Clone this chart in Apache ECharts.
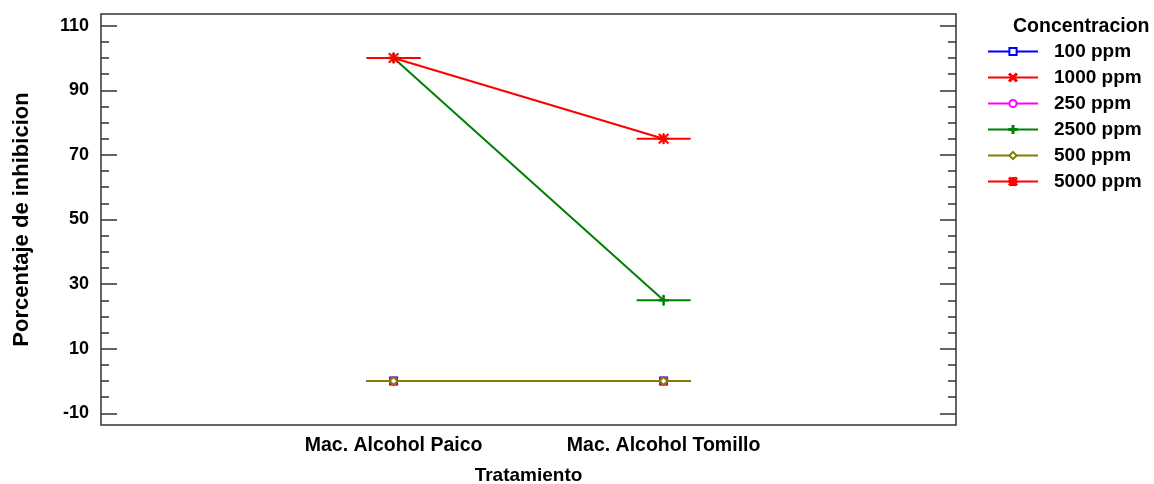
<!DOCTYPE html>
<html>
<head>
<meta charset="utf-8">
<script src="https://cdn.jsdelivr.net/npm/echarts@6/dist/echarts.min.js"></script>
<style>
html,body{margin:0;padding:0;background:#fff;}
#chart{width:1154px;height:484px;}
</style>
</head>
<body>
<div id="chart"></div>
<script>
const categories = ['Mac. Alcohol Paico', 'Mac. Alcohol Tomillo'];
const concentrations = ['100 ppm', '1000 ppm', '250 ppm', '2500 ppm', '500 ppm', '5000 ppm'];
const ppm100 = [0, 0];
const ppm1000 = [0, 0];
const ppm250 = [0, 0];
const ppm2500 = [100, 25];
const ppm500 = [0, 0];
const ppm5000 = [100, 75];
const yMajorTicks = [-10, 10, 30, 50, 70, 90, 110];
const yMinorTicks = [-5, 0, 5, 15, 20, 25, 35, 40, 45, 55, 60, 65, 75, 80, 85, 95, 100, 105];
const legendTitle = 'Concentracion';
const xTitle = 'Tratamiento';
const yTitle = 'Porcentaje de inhibicion';

const values = [ppm100, ppm1000, ppm250, ppm2500, ppm500, ppm5000];
const colors = ['#0000ff', '#ff0000', '#ff00ff', '#008000', '#808000', '#ff0000'];
const PLUS = 'path://M4.3,0H5.7V4.3H10V5.7H5.7V10H4.3V5.7H0V4.3H4.3Z';
const CROSS = 'path://M1,0L5,4L9,0L10,1L6,5L10,9L9,10L5,6L1,10L0,9L4,5L0,1Z';
const STAR = 'path://M4.3,0H5.7V4.3H10V5.7H5.7V10H4.3V5.7H0V4.3H4.3Z M1,0L5,4L9,0L10,1L6,5L10,9L9,10L5,6L1,10L0,9L4,5L0,1Z';
const symbols = ['emptyRect', CROSS, 'emptyCircle', PLUS, 'emptyDiamond', STAR];
const symbolSizes = [7, 8, 7, 10, 8, 10];

const FONT = '"Liberation Sans", Arial, sans-serif';
const YMIN = -13.6, YMAX = 113.6;
const XMIN = -0.0837, XMAX = 3.083;
const HALF = 0.1;

const series = [];
concentrations.forEach((name, i) => {
  const pts = values[i].map((v, j) => [j + 1, v]);
  series.push({
    name: name,
    type: 'line',
    data: pts,
    symbol: symbols[i],
    symbolSize: symbolSizes[i],
    showAllSymbol: true,
    lineStyle: {color: colors[i], width: 2},
    itemStyle: {color: colors[i], borderColor: colors[i], borderWidth: 1},
    emphasis: {disabled: true},
    animation: false
  });
  series.push({
    name: name + ' _seg',
    type: 'custom',
    data: pts,
    animation: false,
    renderItem: function (params, api) {
      const x = api.value(0), y = api.value(1);
      const a = api.coord([x - HALF, y]);
      const b = api.coord([x + HALF, y]);
      return {
        type: 'line',
        shape: {x1: a[0], y1: a[1], x2: b[0], y2: b[1]},
        style: {stroke: colors[i], lineWidth: 2}
      };
    }
  });
});

function tickAx(pos, ticks, len) {
  return {
    type: 'value', position: pos, min: YMIN, max: YMAX,
    splitLine: {show: false},
    axisLine: {show: false},
    axisTick: {show: true, inside: true, length: len, customValues: ticks,
      lineStyle: {color: '#333', width: 1.5}},
    axisLabel: {show: false}
  };
}

const chart = echarts.init(document.getElementById('chart'), null, {renderer: 'canvas'});
chart.setOption({
  backgroundColor: '#fff',
  animation: false,
  grid: {left: 101, right: 198, top: 14, bottom: 59, show: true,
    outerBoundsMode: 'none', containLabel: false,
    borderColor: '#333', borderWidth: 1.5, backgroundColor: 'transparent'},
  title: {text: legendTitle, left: 1013, top: 17, padding: 0,
    textStyle: {color: '#000', fontFamily: FONT, fontWeight: 'bold', fontSize: 19.5}},
  legend: {
    orient: 'vertical', left: 987, top: 42, padding: 0,
    itemWidth: 50, itemHeight: 9, itemGap: 7,
    data: concentrations,
    textStyle: {color: '#000', fontFamily: FONT, fontWeight: 'bold', fontSize: 19,
      padding: [0, 0, 0, 11]}
  },
  xAxis: {
    type: 'value', min: XMIN, max: XMAX,
    splitLine: {show: false},
    axisLine: {show: false},
    axisTick: {show: false},
    axisLabel: {customValues: [1, 2], margin: 11,
      formatter: v => categories[Math.round(v) - 1] || '',
      color: '#000', fontFamily: FONT, fontWeight: 'bold', fontSize: 19.5},
    name: xTitle, nameLocation: 'middle', nameGap: 41,
    nameTextStyle: {color: '#000', fontFamily: FONT, fontWeight: 'bold', fontSize: 19}
  },
  yAxis: [
    {
      type: 'value', position: 'left', min: YMIN, max: YMAX,
      splitLine: {show: false},
      axisLine: {show: false},
      axisTick: {show: false},
      axisLabel: {show: true, customValues: yMajorTicks, margin: 12,
        color: '#000', fontFamily: FONT, fontWeight: 'bold', fontSize: 18},
      name: yTitle, nameLocation: 'middle', nameGap: 68, nameRotate: 90,
      nameTextStyle: {color: '#000', fontFamily: FONT, fontWeight: 'bold', fontSize: 22}
    },
    tickAx('left', yMajorTicks, 16),
    tickAx('left', yMinorTicks, 8),
    tickAx('right', yMajorTicks, 16),
    tickAx('right', yMinorTicks, 8)
  ],
  series: series
});
</script>
</body>
</html>
